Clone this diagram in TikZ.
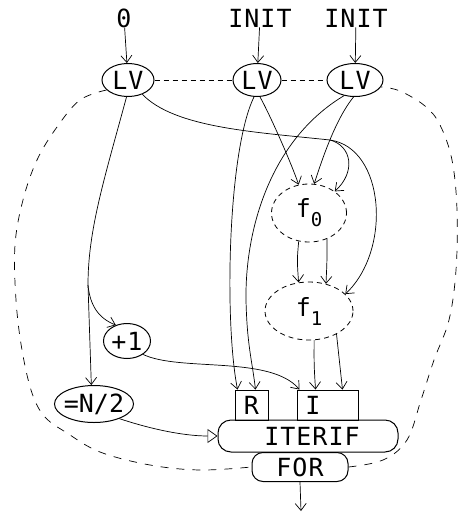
\documentclass[tikz,border=0pt]{standalone}
\usepackage{fontspec}
\newfontfamily\lbl[LetterSpace=4]{DejaVu Sans Mono}
\usetikzlibrary{arrows.meta,shapes.geometric}
\begin{document}
\begin{tikzpicture}[x=1pt,y=-1pt,
  every node/.style={font=\lbl\fontsize{25}{27}\selectfont, inner sep=0pt},
  lv/.style={draw, ellipse, line width=1pt},
  dell/.style={draw, ellipse, dashed, dash pattern=on 5pt off 4pt, line width=0.8pt},
  port/.style={draw, rectangle, line width=1pt, minimum height=30pt},
  rbox/.style={draw, rectangle, rounded corners=13pt, line width=1pt},
  conn/.style={line width=0.7pt},
  arr/.style={conn, -{Straight Barb[length=7pt,width=11pt]}},
  tri/.style={conn, -{Triangle[open,length=10pt,width=14pt]}},
  loop/.style={line width=0.7pt, dash pattern=on 8pt off 8pt},
  dots/.style={line width=0.7pt, dash pattern=on 5pt off 4pt}]
\useasboundingbox (0,0) rectangle (459,520);

% inputs
\node (t0) at (124,18) {0};
\node (t1) at (260,18) {INIT};
\node (t2) at (356,18) {INIT};

% loop variables
\node[lv, minimum width=52pt, minimum height=33pt] (lv1) at (128,80) {LV};
\node[lv, minimum width=48pt, minimum height=33pt] (lv2) at (257,80) {LV};
\node[lv, minimum width=56pt, minimum height=33pt] (lv3) at (355,80) {LV};

% functions
\node[dell, minimum width=75pt, minimum height=58pt] (f0) at (309,213) {f\raisebox{-9pt}{\fontsize{19}{20}\selectfont 0}};
\node[dell, minimum width=88pt, minimum height=58pt] (f1) at (309,311) {f\raisebox{-9pt}{\fontsize{19}{20}\selectfont 1}};

\node[lv, minimum width=47pt, minimum height=35pt, inner sep=-2pt] (p1) at (127,341) {+1};
\node[lv, minimum width=79pt, minimum height=37pt, inner sep=-4pt] (n2) at (94,404) {\addfontfeature{LetterSpace=0}=N/2};

% ports and operators
\node[port, minimum width=33pt] (R) at (251.5,405) {R};
\node[port, minimum width=61pt] (I) at (327.5,405) {I\hspace*{29pt}};
\node[rbox, minimum width=180pt, minimum height=32pt] (it) at (308,436) {\hspace*{8pt}ITERIF};
\node[rbox, minimum width=96pt, minimum height=29pt, rounded corners=11pt] (for) at (300,467) {FOR};
\coordinate (out) at (301,511);

% input arrows
\draw[arr] (t0) -- (lv1);
\draw[arr] (t1) -- (lv2);
\draw[arr] (t2) -- (lv3);

% dotted links between loop variables
\draw[dots] (lv1.east) -- (lv2.west);
\draw[dots] (lv2.east) -- (lv3.west);

% big dashed loop
\draw[loop] plot[smooth, tension=0.6] coordinates {(lv1.205) (80,100) (57,127) (37,160) (23,200) (15,245) (16,300) (22,350) (32,393) (45,417) (67,433) (100,452) (150,465) (200,470) (for.west)};
\draw[loop] plot[smooth, tension=0.6] coordinates {(for.east) (383,460) (407,440) (421,400) (434,360) (449,320) (456,270) (457,210) (452,160) (440,125) (425,106) (400,91) (lv3.-15)};

% LV1 connections
\coordinate (br) at (88,285);
\draw[arr] (lv1.265) .. controls (104,180) and (88,230) .. (br) -- (n2.98);
\draw[arr] (br) .. controls (90,305) and (98,318) .. (p1.125);
\coordinate (bq) at (330,140);
\draw[arr] (lv1.-45) .. controls (175,128) and (255,132) .. (bq) .. controls (385,148) and (392,250) .. (f1.25);
\draw[arr] (bq) .. controls (352,146) and (356,172) .. (f0.40);

% LV2 connections
\draw[arr] (lv2.-100) .. controls (228,150) and (224,320) .. ([xshift=3pt]R.north west);
\draw[arr] (lv2.-80) .. controls (270,115) and (290,160) .. (f0.110);

% LV3 connections
\draw[arr] (lv3.-125) .. controls (270,140) and (245,230) .. (246,300) .. controls (247,345) and (252,360) .. ([xshift=-13pt]R.north east);
\draw[arr] (lv3.-95) .. controls (335,120) and (322,160) .. (f0.80);

% f0 -> f1
\draw[arr] (f0.250) .. controls (297,260) .. (f1.110);
\draw[arr] (f0.305) .. controls (327,262) .. (f1.58);

% f1 -> I
\draw[arr] (f1.280) .. controls (314,365) .. ([xshift=-12pt]I.north);
\draw[arr] (f1.320) .. controls (339,362) .. ([xshift=15pt]I.north);

% +1 -> I
\draw[arr] (p1.-40) .. controls (180,372) and (270,355) .. ([xshift=3pt]I.north west);

% =N/2 -> ITERIF
\draw[tri] (n2.-30) .. controls (160,432) and (190,436) .. (it.west);

% output
\draw[arr] (for.south) -- (out);
\end{tikzpicture}
\end{document}
